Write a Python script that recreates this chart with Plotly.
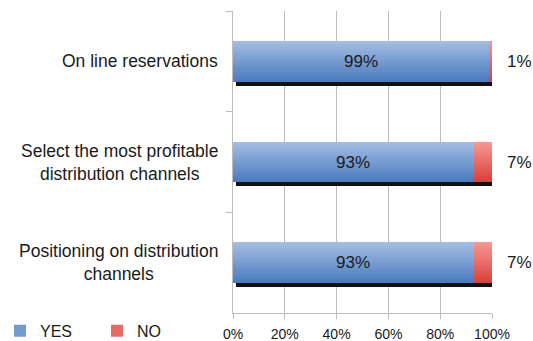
import plotly.graph_objects as go

# Survey answers per activity (percent of respondents)
categories = [
    "On line reservations",
    "Select the most profitable<br>distribution channels",
    "Positioning on distribution<br>channels",
]
yes_values = [99, 93, 93]
no_values = [1, 7, 7]
x_ticks = [0, 20, 40, 60, 80, 100]
x_tick_labels = ["0%", "20%", "40%", "60%", "80%", "100%"]

W, H = 533, 341
M_L, M_R, M_T, M_B = 233, 41, 11, 28
plot_w = W - M_L - M_R
plot_h = H - M_T - M_B
band_px = plot_h / len(categories)

BAR_W = 0.405          # bar thickness in category units
N_SLICES = 20          # horizontal stripes used to paint the vertical gradient
SHADOW_DX = 3          # drop shadow offset, pixels
SHADOW_DY = 4

FONT = "Liberation Sans, Arial, Helvetica, sans-serif"
TXT = "#1a1a1a"

BLUE_TOP, BLUE_BOT = (166, 190, 228), (72, 122, 190)
RED_TOP, RED_BOT = (248, 152, 148), (214, 64, 58)


def mix(c0, c1, t):
    return "rgb({},{},{})".format(*[round(a + (b - a) * t) for a, b in zip(c0, c1)])


totals = [a + b for a, b in zip(yes_values, no_values)]

fig = go.Figure()

# drop shadow behind each stacked bar
fig.add_trace(go.Bar(
    y=categories, x=totals,
    base=[SHADOW_DX / plot_w * 100] * len(categories),
    orientation="h",
    width=BAR_W, offset=-BAR_W / 2 + SHADOW_DY / band_px,
    marker=dict(color="#111111", line=dict(width=0)),
    showlegend=False, hoverinfo="skip", cliponaxis=False,
))

# gradient-filled YES and NO segments
for i in range(N_SLICES):
    t = (i + 0.5) / N_SLICES
    off = -BAR_W / 2 + i * BAR_W / N_SLICES
    wid = BAR_W / N_SLICES * 1.02
    mid = i == N_SLICES // 2
    fig.add_trace(go.Bar(
        y=categories, x=yes_values, orientation="h",
        width=wid, offset=off,
        marker=dict(color=mix(BLUE_TOP, BLUE_BOT, t), line=dict(width=0)),
        name="YES", showlegend=mid, hoverinfo="skip",
    ))
    fig.add_trace(go.Bar(
        y=categories, x=no_values, base=yes_values, orientation="h",
        width=wid, offset=off,
        marker=dict(color=mix(RED_TOP, RED_BOT, t), line=dict(width=0)),
        name="NO", showlegend=mid, hoverinfo="skip",
    ))

annotations = []
for cat, yv, nv, tot in zip(categories, yes_values, no_values, totals):
    # value inside the YES segment
    annotations.append(dict(
        x=yv / 2, y=cat, xref="x", yref="y", text=f"{yv}%",
        showarrow=False, font=dict(family=FONT, size=17, color=TXT),
    ))
    # value to the right of the bar for NO
    annotations.append(dict(
        x=tot, y=cat, xref="x", yref="y", text=f"{nv}%",
        xanchor="left", xshift=13, showarrow=False,
        font=dict(family=FONT, size=17, color=TXT),
    ))
    # category label, centred block right-aligned to the axis
    annotations.append(dict(
        x=0, y=cat, xref="paper", yref="y", text=cat,
        xanchor="right", xshift=-13, align="center", showarrow=False,
        font=dict(family=FONT, size=17.5, color=TXT),
    ))

fig.update_layout(
    width=W, height=H,
    margin=dict(l=M_L, r=M_R, t=M_T, b=M_B, pad=0, autoexpand=False),
    paper_bgcolor="white", plot_bgcolor="white",
    barmode="overlay", bargap=0,
    font=dict(family=FONT, color=TXT),
    annotations=annotations,
    legend=dict(
        orientation="h", xref="container", yref="container",
        x=-0.011, y=0.03, xanchor="left", yanchor="middle",
        font=dict(family=FONT, size=16, color=TXT),
        entrywidth=52, entrywidthmode="pixels", itemwidth=30,
        traceorder="normal", bgcolor="rgba(0,0,0,0)",
    ),
    xaxis=dict(
        range=[0, 100], tickvals=x_ticks, ticktext=x_tick_labels,
        showgrid=True, gridcolor="#bdbdbd", gridwidth=1,
        showline=True, linecolor="#bdbdbd", linewidth=1,
        ticks="outside", ticklen=5, tickcolor="#bdbdbd",
        tickfont=dict(family=FONT, size=14, color=TXT),
        ticklabelstandoff=3,
        zeroline=False, fixedrange=True,
    ),
    yaxis=dict(
        categoryorder="array", categoryarray=categories,
        autorange="reversed",
        showticklabels=False, showgrid=False,
        showline=True, linecolor="#bdbdbd", linewidth=1,
        ticks="outside", ticklen=6, tickcolor="#bdbdbd",
        tickson="boundaries", zeroline=False, fixedrange=True,
    ),
)

fig.write_html("out.html")
